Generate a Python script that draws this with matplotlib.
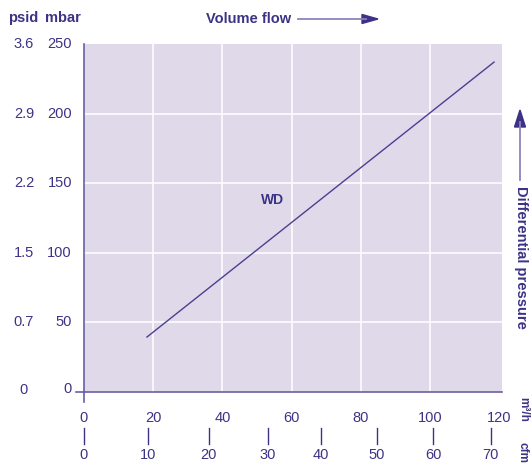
import matplotlib
matplotlib.use("Agg")
import matplotlib.pyplot as plt
from matplotlib.transforms import blended_transform_factory as btf

plt.rcParams["font.family"] = ["Liberation Sans", "DejaVu Sans"]

# Data
line_x = [18.2, 118.5]          # m³/h
line_y = [39.5, 237.0]          # mbar
mbar_ticks = [0, 50, 100, 150, 200, 250]
psid_labels = ["0", "0.7", "1.5", "2.2", "2.9", "3.6"]
m3h_ticks = [0, 20, 40, 60, 80, 100, 120]
cfm_labels = [0, 10, 20, 30, 40, 50, 60, 70]
cfm_pos_m3h = [0, 18.5, 36.1, 53.2, 68.5, 84.7, 100.9, 117.6]
series_label = "WD"

TXT = "#3d3386"
BG = "#dfd9ea"
LINE = "#4b4090"
SPINE = "#6a5fa3"
ARROW = "#8c82bb"

W, H = 531, 463
fig = plt.figure(figsize=(W / 100, H / 100), dpi=100)
ax = fig.add_axes([84 / W, 1 - 392 / H, (502 - 84) / W, (392 - 44) / H])
ax.set_xlim(0, 120.8)
ax.set_ylim(0, 250)
ax.set_facecolor(BG)
for s in ["top", "right"]:
    ax.spines[s].set_visible(False)
for s in ["left", "bottom"]:
    ax.spines[s].set_color(SPINE)
    ax.spines[s].set_linewidth(1.2)
ax.set_xticks([])
ax.set_yticks([])

# grid
for gx in m3h_ticks[1:-1]:
    ax.axvline(gx, color="white", lw=1.1, zorder=1)
for gy in mbar_ticks[1:-1]:
    ax.axhline(gy, color="white", lw=1.1, zorder=1)

ax.plot(line_x, line_y, color=LINE, lw=1.0, zorder=3)
ax.text(54.5, 138, series_label, color=TXT, fontsize=10, fontweight="bold",
        ha="center", va="center")

# origin ticks extending spines
ax.plot([-2.4, 0], [0, 0], color=SPINE, lw=1.2, clip_on=False)
ax.plot([0, 0], [-7.5, 0], color=SPINE, lw=1.2, clip_on=False)

fs = 10.5
# y labels
tr = btf(fig.transFigure, ax.transData)
for v, p in zip(mbar_ticks, psid_labels):
    yy = 2.5 if v == 0 else v
    ax.text(72 / W, yy, str(v), transform=tr, ha="right", va="center",
            color=TXT, fontsize=fs)
    ax.text(24 / W, (1.5 if v == 0 else v), p, transform=tr, ha="center",
            va="center", color=TXT, fontsize=fs)
fig.text(23 / W, 1 - 18 / H, "psid", color=TXT, fontsize=fs, fontweight="bold",
         ha="center", va="center")
fig.text(62.5 / W, 1 - 18 / H, "mbar", color=TXT, fontsize=fs, fontweight="bold",
         ha="center", va="center")

# x labels
trx = btf(ax.transData, fig.transFigure)
for v in m3h_ticks:
    ax.text(v, 1 - 418 / H, str(v), transform=trx, ha="center", va="center",
            color=TXT, fontsize=fs)
for v, p in zip(cfm_labels, cfm_pos_m3h):
    ax.text(p, 1 - 455 / H, str(v), transform=trx, ha="center", va="center",
            color=TXT, fontsize=fs)
    ax.plot([p, p], [1 - 428 / H, 1 - 444 / H], transform=trx, color=TXT,
            lw=1.0, clip_on=False)
fig.text(523 / W, 1 - 409 / H, "m³/h", color=TXT, fontsize=8.5, fontweight="bold",
         rotation=-90, ha="center", va="center")
fig.text(523 / W, 1 - 453 / H, "cfm", color=TXT, fontsize=8.5, fontweight="bold",
         rotation=-90, ha="center", va="center")

# titles with arrows
fig.text(248.5 / W, 1 - 19 / H, "Volume flow", color=TXT, fontsize=10.5,
         fontweight="bold", ha="center", va="center")
fig.add_artist(plt.Line2D([298 / W, 366 / W], [1 - 19 / H, 1 - 19 / H],
                          color=ARROW, lw=1.3))
fig.add_artist(matplotlib.patches.FancyArrow(362 / W, 1 - 19 / H, 16 / W, 0,
               width=0.0001, head_width=9 / H, head_length=16 / W,
               length_includes_head=True, color="#3d3188", transform=fig.transFigure))
fig.text(521 / W, 1 - 257 / H, "Differential pressure", color=TXT, fontsize=10.5,
         fontweight="bold", rotation=-90, ha="center", va="center")
fig.add_artist(plt.Line2D([520 / W, 520 / W], [1 - 180 / H, 1 - 122 / H],
                          color=ARROW, lw=1.3))
fig.add_artist(matplotlib.patches.FancyArrow(520 / W, 1 - 127 / H, 0, 17 / H,
               width=0.0001, head_width=11 / W, head_length=17 / H,
               length_includes_head=True, color="#3d3188", transform=fig.transFigure))

fig.savefig("out.png", dpi=100)
